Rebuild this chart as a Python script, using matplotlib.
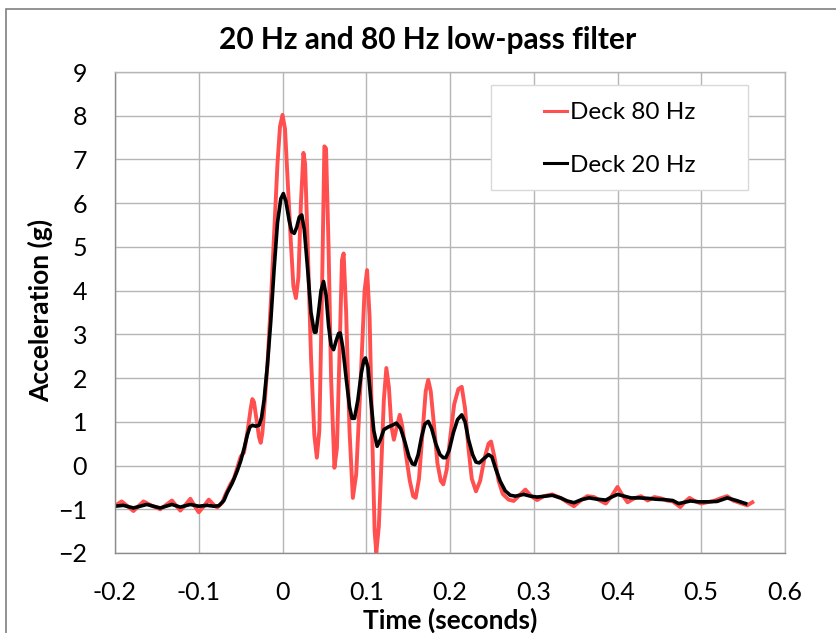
import matplotlib
matplotlib.use("Agg")
import matplotlib.pyplot as plt
from matplotlib.patches import Rectangle

plt.rcParams["font.family"] = ["Lato", "DejaVu Sans"]

# Deck accelerometer, 80 Hz low-pass (time s, acceleration g)
t80 = [
    -0.200, -0.192, -0.185, -0.178, -0.172, -0.166, -0.156, -0.146, -0.139, -0.132,
    -0.127, -0.122, -0.116, -0.110, -0.105, -0.100, -0.094, -0.088, -0.082, -0.078,
    -0.072, -0.068, -0.062, -0.058, -0.054, -0.050, -0.046, -0.042, -0.038, -0.036,
    -0.034, -0.031, -0.028, -0.026, -0.024, -0.021, -0.018, -0.014, -0.010, -0.006,
    -0.003, 0.000, 0.003, 0.006, 0.010, 0.013, 0.016, 0.019, 0.022, 0.025,
    0.027, 0.030, 0.034, 0.038, 0.041, 0.044, 0.047, 0.050, 0.052, 0.055,
    0.058, 0.062, 0.065, 0.068, 0.071, 0.073, 0.076, 0.080, 0.084, 0.088,
    0.093, 0.098, 0.101, 0.104, 0.107, 0.110, 0.112, 0.115, 0.118, 0.121,
    0.124, 0.127, 0.130, 0.133, 0.136, 0.140, 0.143, 0.147, 0.152, 0.156,
    0.159, 0.163, 0.167, 0.171, 0.174, 0.177, 0.181, 0.185, 0.189, 0.192,
    0.196, 0.200, 0.205, 0.210, 0.214, 0.218, 0.222, 0.226, 0.231, 0.236,
    0.241, 0.246, 0.249, 0.253, 0.258, 0.263, 0.270, 0.276, 0.283, 0.290,
    0.297, 0.304, 0.312, 0.322, 0.333, 0.341, 0.348, 0.356, 0.364, 0.372,
    0.379, 0.386, 0.393, 0.400, 0.406, 0.412, 0.420, 0.428, 0.436, 0.444,
    0.452, 0.459, 0.466, 0.475, 0.481, 0.486, 0.493, 0.500, 0.507, 0.515,
    0.523, 0.531, 0.538, 0.544, 0.550, 0.555, 0.561,
]
a80 = [
    -0.92, -0.82, -0.93, -1.04, -0.93, -0.82, -0.92, -1.00, -0.90, -0.80,
    -0.92, -1.03, -0.90, -0.76, -0.92, -1.07, -0.93, -0.78, -0.90, -0.96,
    -0.85, -0.66, -0.42, -0.30, -0.05, 0.20, 0.30, 0.75, 1.30, 1.52,
    1.45, 1.05, 0.65, 0.52, 0.75, 1.50, 2.30, 3.70, 5.30, 6.90,
    7.75, 8.02, 7.70, 6.60, 5.10, 4.10, 3.83, 4.30, 6.00, 7.15,
    6.90, 5.10, 2.50, 0.70, 0.18, 0.80, 3.80, 7.30, 7.25, 5.00,
    2.00, -0.05, 0.40, 2.50, 4.70, 4.85, 3.50, 0.80, -0.74, -0.20,
    1.80, 4.00, 4.47, 3.40, 0.80, -1.50, -1.99, -1.40, 0.00, 1.50,
    2.23, 1.80, 0.90, 0.59, 0.85, 1.16, 0.90, 0.30, -0.35, -0.70,
    -0.74, -0.30, 0.70, 1.70, 1.96, 1.70, 0.90, 0.05, -0.35, -0.43,
    -0.10, 0.60, 1.40, 1.75, 1.80, 1.30, 0.40, -0.30, -0.59, -0.35,
    0.15, 0.50, 0.55, 0.20, -0.35, -0.65, -0.78, -0.81, -0.68, -0.55,
    -0.70, -0.79, -0.70, -0.66, -0.75, -0.85, -0.93, -0.80, -0.70, -0.72,
    -0.80, -0.87, -0.70, -0.49, -0.68, -0.84, -0.75, -0.70, -0.80, -0.72,
    -0.75, -0.80, -0.82, -0.95, -0.82, -0.74, -0.82, -0.87, -0.84, -0.81,
    -0.75, -0.70, -0.80, -0.84, -0.88, -0.91, -0.84,
]

# Deck accelerometer, 20 Hz low-pass
t20 = [
    -0.200, -0.190, -0.178, -0.170, -0.162, -0.146, -0.132, -0.122, -0.110, -0.100,
    -0.090, -0.082, -0.076, -0.070, -0.066, -0.060, -0.054, -0.050, -0.046, -0.042,
    -0.039, -0.036, -0.032, -0.028, -0.025, -0.022, -0.018, -0.014, -0.010, -0.006,
    -0.002, 0.001, 0.004, 0.008, 0.011, 0.014, 0.017, 0.020, 0.023, 0.026,
    0.030, 0.034, 0.038, 0.040, 0.043, 0.046, 0.049, 0.052, 0.055, 0.058,
    0.061, 0.064, 0.067, 0.069, 0.072, 0.076, 0.080, 0.083, 0.086, 0.090,
    0.094, 0.097, 0.099, 0.102, 0.105, 0.109, 0.113, 0.117, 0.121, 0.126,
    0.131, 0.136, 0.141, 0.146, 0.151, 0.155, 0.158, 0.162, 0.166, 0.170,
    0.174, 0.178, 0.183, 0.188, 0.192, 0.195, 0.199, 0.204, 0.209, 0.214,
    0.218, 0.222, 0.227, 0.231, 0.235, 0.240, 0.246, 0.250, 0.255, 0.260,
    0.266, 0.272, 0.278, 0.288, 0.296, 0.304, 0.314, 0.322, 0.332, 0.340,
    0.348, 0.357, 0.366, 0.376, 0.386, 0.393, 0.400, 0.408, 0.416, 0.426,
    0.436, 0.446, 0.456, 0.466, 0.473, 0.480, 0.487, 0.497, 0.508, 0.519,
    0.531, 0.542, 0.553,
]
a20 = [
    -0.93, -0.91, -0.97, -0.93, -0.89, -0.97, -0.89, -0.95, -0.89, -0.93,
    -0.91, -0.93, -0.92, -0.80, -0.62, -0.40, -0.12, 0.10, 0.38, 0.70,
    0.88, 0.92, 0.90, 0.92, 1.10, 1.50, 2.30, 3.30, 4.50, 5.55,
    6.10, 6.22, 6.05, 5.60, 5.35, 5.31, 5.45, 5.68, 5.73, 5.40,
    4.50, 3.50, 3.05, 3.05, 3.50, 4.00, 4.21, 3.90, 3.20, 2.75,
    2.65, 2.85, 3.02, 3.03, 2.70, 2.00, 1.35, 1.08, 1.08, 1.50,
    2.10, 2.40, 2.46, 2.25, 1.60, 0.80, 0.44, 0.60, 0.82, 0.88,
    0.92, 0.97, 0.85, 0.55, 0.20, 0.04, 0.02, 0.25, 0.65, 0.95,
    1.01, 0.85, 0.50, 0.25, 0.18, 0.18, 0.35, 0.75, 1.05, 1.16,
    1.00, 0.60, 0.25, 0.08, 0.06, 0.15, 0.25, 0.20, -0.10, -0.36,
    -0.58, -0.68, -0.70, -0.66, -0.70, -0.72, -0.70, -0.68, -0.74, -0.81,
    -0.85, -0.78, -0.74, -0.77, -0.79, -0.72, -0.66, -0.70, -0.74, -0.74,
    -0.75, -0.77, -0.78, -0.80, -0.87, -0.84, -0.81, -0.83, -0.83, -0.82,
    -0.74, -0.80, -0.87,
]

xticks = [-0.2, -0.1, 0, 0.1, 0.2, 0.3, 0.4, 0.5, 0.6]
xtick_labels = ["-0.2", "-0.1", "0", "0.1", "0.2", "0.3", "0.4", "0.5", "0.6"]
yticks = list(range(-2, 10))

W, H = 836, 633
fig = plt.figure(figsize=(W / 100, H / 100), dpi=100)
ax = fig.add_axes([115 / W, 1 - 553 / H, (785 - 115) / W, (553 - 72) / H])

# chart-area frame (runs off the right/bottom edges like the source crop)
fig.patches.append(Rectangle((6 / W, -0.1), 1.2, 1 - 9 / H + 0.1,
                             transform=fig.transFigure, fill=False,
                             edgecolor="#7f7f7f", linewidth=1.2))

ax.plot(t80, a80, color="#ff4f4f", lw=2.8, label="Deck 80 Hz", solid_joinstyle="round")
ax.plot(t20, a20, color="black", lw=2.6, label="Deck 20 Hz", solid_joinstyle="round")

ax.set_xlim(-0.2, 0.6)
ax.set_ylim(-2, 9)
ax.set_xticks(xticks)
ax.set_xticklabels(xtick_labels)
ax.set_yticks(yticks)
ax.grid(True, color="#b5b5b5", lw=1.0)
ax.set_axisbelow(True)
for s in ax.spines.values():
    s.set_color("#b5b5b5")
    s.set_linewidth(1.0)
ax.spines["left"].set_color("#8c8c8c")
ax.spines["bottom"].set_color("#8c8c8c")
ax.tick_params(length=0, labelsize=18, colors="black")
ax.tick_params(axis="x", pad=20)
ax.tick_params(axis="y", pad=20)

fig.text(450 / W, 1 - 620 / H, "Time (seconds)", ha="center", va="center",
         fontsize=19, fontweight="bold")
fig.text(40 / W, 1 - 310 / H, "Acceleration (g)", ha="center", va="center",
         rotation=90, fontsize=19, fontweight="bold")
fig.text(428 / W, 1 - 40 / H, "20 Hz and 80 Hz low-pass filter", ha="center",
         va="center", fontsize=21.5, fontweight="bold")

# legend box drawn separately so its padding can match the source
ax.add_patch(Rectangle((491 / W, 1 - 190 / H), (748 - 491) / W, (190 - 85) / H,
                       transform=fig.transFigure, facecolor="white",
                       edgecolor="#d9d9d9", linewidth=1.0, zorder=4,
                       clip_on=False))
leg = ax.legend(loc="upper left", bbox_to_anchor=(544 / W, 1 - 102 / H),
                bbox_transform=fig.transFigure, fontsize=17.5, frameon=False,
                handlelength=0.95, handletextpad=0.12, borderpad=0,
                labelspacing=1.3, borderaxespad=0)
leg.set_zorder(5)
for h in leg.get_lines():
    h.set_linewidth(2.2)

fig.savefig("out.png", dpi=100)
